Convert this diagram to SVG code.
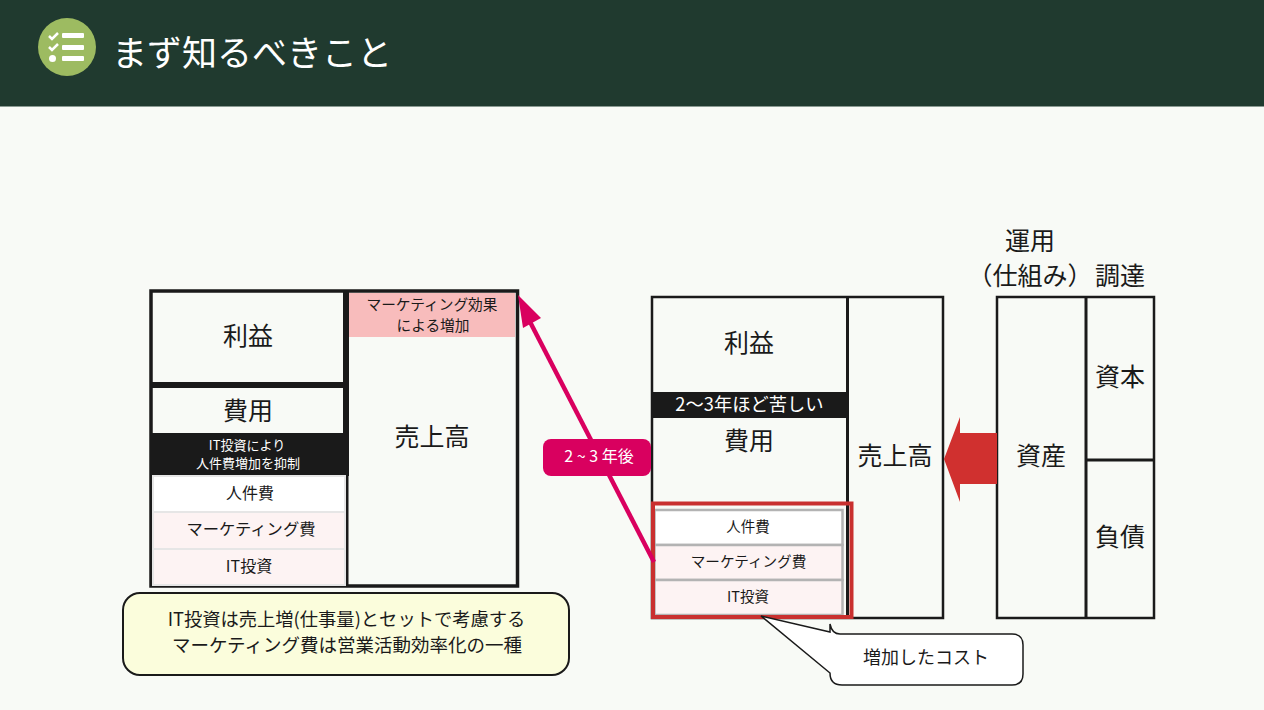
<svg xmlns="http://www.w3.org/2000/svg" width="1264" height="710" viewBox="0 0 1264 710">
<style>
text{font-family:"Noto Sans CJK JP","Noto Sans",sans-serif;fill:#1a1a1a;text-anchor:middle}
.b{fill:#f8faf6;stroke:#1a1a1a}
.s2{stroke-width:2.5}
.s3{stroke-width:3.5}
.l{font-size:25px}
.m{font-size:14.700px}
.row{stroke:#b3b3b3;stroke-width:2.500}
.rowl{stroke:#e6e6e6;stroke-width:2}
.pk{fill:#fdf3f3}
.wt{fill:#fff}
.inv{fill:#fff}
</style>
<rect width="1264" height="710" fill="#f8faf6"/>
<g id="header">
<rect width="1264" height="106" fill="#203a2f"/>
<rect y="106" width="1264" height="1" fill="#8a9a92"/>
<circle cx="67" cy="47" r="29" fill="#9dbb61"/>
<g fill="#fff">
<rect x="62" y="33" width="22" height="5" rx="1"/>
<rect x="62" y="45" width="22" height="5" rx="1"/>
<rect x="62" y="56" width="22" height="5" rx="1"/>
<circle cx="52.500" cy="58.500" r="3.500"/>
</g>
<path d="M49 36l3 3 6-6M49 47l3 3 6-6" fill="none" stroke="#fff" stroke-width="2.500"/>
<text x="252" y="66" font-size="35" class="inv">まず知るべきこと</text>
</g>
<g id="left-table">
<rect class="b s3" x="151" y="291" width="366.500" height="295"/>
<rect x="349" y="293" width="166" height="44" fill="#f8bcbc"/>
<rect x="343" y="291" width="6" height="185" fill="#1a1a1a"/>
<rect x="345.500" y="476" width="3" height="110" fill="#1a1a1a"/>
<rect x="152" y="382" width="192" height="6" fill="#1a1a1a"/>
<rect x="152" y="433" width="194" height="43" fill="#1a1a1a"/>
<rect class="wt rowl" x="153" y="476" width="192" height="36"/>
<rect class="pk rowl" x="153" y="512" width="192" height="37"/>
<rect class="pk rowl" x="153" y="549" width="192" height="36"/>
<text class="l" x="248" y="345">利益</text>
<text class="l" x="248" y="420">費用</text>
<text class="l" x="432" y="446">売上高</text>
<text class="m" x="432" y="310">マーケティング効果</text>
<text class="m" x="433" y="331">による増加</text>
<text x="247" y="450" font-size="13" class="inv">IT投資により</text>
<text x="248" y="468" font-size="13" class="inv">人件費増加を抑制</text>
<text x="250" y="499" font-size="16">人件費</text>
<text x="251" y="535" font-size="16.300">マーケティング費</text>
<text x="249" y="572" font-size="16">IT投資</text>
</g>
<g id="note">
<rect x="123" y="593" width="446" height="82" rx="17" fill="#fbfddc" stroke="#1a1a1a" stroke-width="2"/>
<text x="346.500" y="626" font-size="18.300">IT投資は売上増(仕事量)とセットで考慮する</text>
<text x="347" y="652" font-size="18.500">マーケティング費は営業活動効率化の一種</text>
</g>
<g id="right-table">
<rect class="b s2" x="652" y="297" width="291" height="321"/>
<rect x="846" y="297" width="3" height="321" fill="#1a1a1a"/>
<rect x="652" y="392" width="195" height="26" fill="#1a1a1a"/>
<text class="l" x="749" y="352">利益</text>
<text class="l" x="749" y="450">費用</text>
<text class="l" x="895" y="465">売上高</text>
<text x="749.500" y="411" font-size="18.300" class="inv">2〜3年ほど苦しい</text>
<rect class="wt row" x="654.500" y="510" width="188" height="35"/>
<rect class="pk row" x="654.500" y="545" width="188" height="35"/>
<rect class="pk row" x="654.500" y="580" width="188" height="35"/>
<text x="748" y="532" font-size="14.500">人件費</text>
<text x="748.500" y="567" font-size="14.600">マーケティング費</text>
<text x="748" y="602" font-size="14.500">IT投資</text>
<rect x="653" y="503.500" width="198.500" height="113.500" fill="none" stroke="#c9302f" stroke-width="4"/>
</g>
<g id="bs-table">
<rect class="b s2" x="997" y="297" width="157" height="321"/>
<path d="M1086 297V618M1086 460H1154" fill="none" stroke="#1a1a1a" stroke-width="3"/>
<text class="l" x="1041" y="465">資産</text>
<text class="l" x="1120" y="386">資本</text>
<text class="l" x="1120" y="546">負債</text>
<text class="l" x="1030" y="250">運用</text>
<text class="l" x="1030" y="285">（仕組み）</text>
<text class="l" x="1120" y="285">調達</text>
</g>
<g id="connectors">
<path d="M997 433H960V417L944 459 960 502V484H997Z" fill="#d0302f"/>
<path d="M654 562L528 318" fill="none" stroke="#d9005f" stroke-width="4.500"/>
<path d="M518 295L541 318 523 328Z" fill="#d9005f"/>
</g>
<g id="label-years">
<rect x="543" y="439" width="108" height="37" rx="8" fill="#d9005f"/>
<text x="599" y="462" font-size="16" class="inv">2 ~ 3 年後</text>
</g>
<g id="callout">
<path d="M761 616L830 632V624Q832 634 840 634H1012Q1023 634 1023 645V674Q1023 685 1012 685H842Q830 685 830 673Z" fill="#fff" stroke="#1a1a1a" stroke-width="1.500"/>
<text x="926" y="664" font-size="18">増加したコスト</text>
</g>
</svg>
